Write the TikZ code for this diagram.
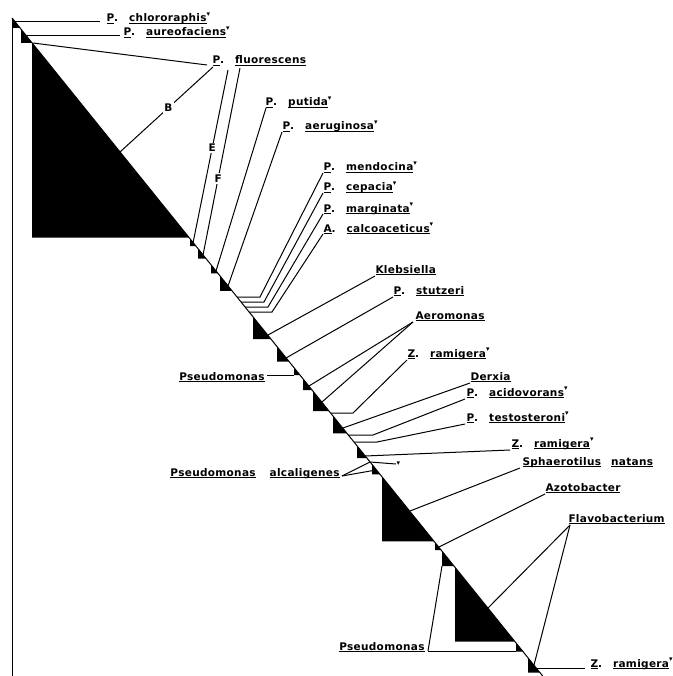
\documentclass[tikz,border=0pt]{standalone}
\usepackage{fontspec}
\setmainfont[LetterSpace=3]{DejaVu Sans}
\usepackage{tikz}
\usetikzlibrary{positioning}

\newcommand\ulw[1]{\setbox0\hbox{#1}\rlap{\rule[-2pt]{\wd0}{0.9pt}}\box0}
\newcommand\bname[2]{\ulw{#1}.\hspace{11pt}\ulw{#2}}
\newcommand\mk{\raisebox{1.0ex}{\fontsize{7}{7}\selectfont ▾}}

\begin{document}
\begin{tikzpicture}[x=1pt,y=-1pt,line width=1pt,
		lab/.style={anchor=base west,inner sep=0pt,font=\bfseries\fontsize{10.5}{12}\selectfont},
		labr/.style={anchor=base east,inner sep=0pt,font=\bfseries\fontsize{10.5}{12}\selectfont},
		cutlab/.style={fill=white,inner sep=1.5pt,font=\bfseries\fontsize{10.5}{12}\selectfont}]
			\useasboundingbox (0,0) rectangle (672,676);

			\fill (12,18) -- (20,27.9) -- (12,27.9) -- cycle;
			\fill (21,29.2) -- (32,42.8) -- (21,42.8) -- cycle;
			\fill (32,42.8) -- (189,237.5) -- (32,237.5) -- cycle;
			\fill (190,238.7) -- (196,246.2) -- (190,246.2) -- cycle;
			\fill (198,248.6) -- (206,258.6) -- (198,258.6) -- cycle;
			\fill (211,264.8) -- (218,273.4) -- (211,273.4) -- cycle;
			\fill (220,275.9) -- (232,290.8) -- (220,290.8) -- cycle;
			\fill (253,316.8) -- (271,339.2) -- (253,339.2) -- cycle;
			\fill (277,346.6) -- (289,361.5) -- (277,361.5) -- cycle;
			\fill (294,367.7) -- (300,375.2) -- (294,375.2) -- cycle;
			\fill (303,378.8) -- (312,390) -- (303,390) -- cycle;
			\fill (313,391.2) -- (329,411.1) -- (313,411.1) -- cycle;
			\fill (333,416) -- (347,433.4) -- (333,433.4) -- cycle;
			\fill (357,445.8) -- (367,458.2) -- (357,458.2) -- cycle;
			\fill (372,464.4) -- (380,474.3) -- (372,474.3) -- cycle;
			\fill (382,476.8) -- (434,541.3) -- (382,541.3) -- cycle;
			\fill (435,542.5) -- (441,550) -- (435,550) -- cycle;
			\fill (442,551.2) -- (454,566.1) -- (442,566.1) -- cycle;
			\fill (455,567.3) -- (515,641.7) -- (455,641.7) -- cycle;
			\fill (516,643) -- (523,651.6) -- (516,651.6) -- cycle;
			\fill (528,657.8) -- (540,672.7) -- (528,672.7) -- cycle;

			\draw (12,18) -- (543,676.4);
			\draw (12,18) -- (12,676);

			\node[lab] (chloro) at (106,22) {\bname{P}{chlororaphis}\mk};
			\node[lab] (aureo) at (123,36) {\bname{P}{aureofaciens}\mk};
			\node[lab] (fluor) at (212,64) {\bname{P}{fluorescens}};
			\node[lab] (putida) at (265,106) {\bname{P}{putida}\mk};
			\node[lab] (aerug) at (282,130) {\bname{P}{aeruginosa}\mk};
			\node[lab] (mendo) at (323,171) {\bname{P}{mendocina}\mk};
			\node[lab] (cepac) at (323,191) {\bname{P}{cepacia}\mk};
			\node[lab] (margi) at (323,212) {\bname{P}{marginata}\mk};
			\node[lab] (calco) at (323,232) {\bname{A}{calcoaceticus}\mk};
			\node[lab] (klebs) at (375,273) {\ulw{Klebsiella}};
			\node[lab] (stutz) at (393,294) {\bname{P}{stutzeri}};
			\node[lab] (aerom) at (415,319) {\ulw{Aeromonas}};
			\node[lab] (zram1) at (407,357) {\bname{Z}{ramigera}\mk};
			\node[lab] (derx) at (470,380) {\ulw{Derxia}};
			\node[lab] (acido) at (466,396) {\bname{P}{acidovorans}\mk};
			\node[lab] (testo) at (466,421) {\bname{P}{testosteroni}\mk};
			\node[lab] (zram2) at (511,447) {\bname{Z}{ramigera}\mk};
			\node[labr] (pseu1) at (265,380) {\ulw{Pseudomonas}};
			\node[labr] (alcal) at (340,476) {\ulw{Pseudomonas}\hspace{14pt}\ulw{alcaligenes}};
			\node[lab] (sphae) at (522,465) {\ulw{Sphaerotilus}\hspace{10pt}\ulw{natans}};
			\node[lab] (azoto) at (545,491) {\ulw{Azotobacter}};
			\node[lab] (flavo) at (568,522) {\ulw{Flavobacterium}};
			\node[labr] (pseu3) at (425,650) {\ulw{Pseudomonas}};
			\node[lab] (zram3) at (590,667) {\bname{Z}{ramigera}\mk};
			\node[anchor=west,inner sep=0pt,font=\fontsize{7}{7}\selectfont] (tick) at (396,464) {▾};

			\coordinate (cchl) at (14,22);
			\coordinate (caur) at (25,36);
			\coordinate (cflu) at (33,43);
			\coordinate (cB) at (120,152);
			\coordinate (cE) at (193,243);
			\coordinate (cF) at (203,255);
			\coordinate (cput) at (216,271);
			\coordinate (caer) at (228,286);
			\coordinate (cmen) at (237,297);
			\coordinate (kmen) at (260,297);
			\coordinate (ccep) at (241,302);
			\coordinate (kcep) at (264,302);
			\coordinate (cmar) at (245,307);
			\coordinate (kmar) at (268,307);
			\coordinate (ccal) at (249,312);
			\coordinate (kcal) at (272,312);
			\coordinate (ckle) at (268,335);
			\coordinate (cstu) at (286,358);
			\coordinate (caer1) at (309,386);
			\coordinate (caer2) at (322,402);
			\coordinate (cps1) at (294,375);
			\coordinate (czr1) at (331,413);
			\coordinate (kzr1) at (353,413);
			\coordinate (cder) at (343,428);
			\coordinate (caci) at (348,435);
			\coordinate (kaci) at (373,435);
			\coordinate (ctes) at (354,442);
			\coordinate (ktes) at (377,442);
			\coordinate (czr2) at (365,456);
			\coordinate (cmk) at (370,462);
			\coordinate (calc) at (376,470);
			\coordinate (csph) at (410,511);
			\coordinate (cazo) at (439,547);
			\coordinate (cfla1) at (488,608);
			\coordinate (cfla2) at (534,665);
			\coordinate (cps2) at (442,566);
			\coordinate (cps3) at (516,651);
			\coordinate (czr3) at (536,668);

			\draw (cchl) -- ([xshift=-6pt]chloro.base west);
			\draw (caur) -- ([xshift=-3pt]aureo.base west);
			\draw (cflu) -- ([xshift=-5pt,yshift=-1pt]fluor.base west);
			\draw ([xshift=1pt,yshift=-3pt]fluor.base west) -- node[cutlab,pos=0.48] {B} (cB);
			\draw ([xshift=16pt,yshift=-6pt]fluor.base west) -- node[cutlab,pos=0.45] {E} (cE);
			\draw ([xshift=28pt,yshift=-4pt]fluor.base west) -- node[cutlab,pos=0.59] {F} (cF);
			\draw (cput) -- ([xshift=1pt,yshift=-2pt]putida.base west);
			\draw (caer) -- ([yshift=-2pt]aerug.base west);
			\draw (cmen) -- (kmen) -- ([yshift=-2pt]mendo.base west);
			\draw (ccep) -- (kcep) -- ([yshift=-2pt]cepac.base west);
			\draw (cmar) -- (kmar) -- ([yshift=-2pt]margi.base west);
			\draw (ccal) -- (kcal) -- ([yshift=-2pt]calco.base west);
			\draw (ckle) -- ([yshift=-3pt]klebs.base west);
			\draw (cstu) -- ([yshift=-3pt]stutz.base west);
			\draw (caer1) -- ([xshift=-2pt,yshift=-3pt]aerom.base west);
			\draw (caer2) -- ([xshift=-2pt,yshift=-3pt]aerom.base west);
			\draw ([xshift=2pt,yshift=5pt]pseu1.base east) -- (cps1);
			\draw (czr1) -- (kzr1) -- ([yshift=-3pt]zram1.base west);
			\draw (cder) -- ([yshift=-3pt]derx.base west);
			\draw (caci) -- (kaci) -- ([xshift=-1pt,yshift=-3pt]acido.base west);
			\draw (ctes) -- (ktes) -- ([xshift=-1pt,yshift=-3pt]testo.base west);
			\draw (czr2) -- ([xshift=-1pt,yshift=-3pt]zram2.base west);
			\draw (cmk) -- (tick.west);
			\draw ([xshift=2pt]alcal.base east) -- (cmk);
			\draw ([xshift=2pt]alcal.base east) -- (calc);
			\draw (csph) -- ([xshift=-2pt,yshift=-3pt]sphae.base west);
			\draw (cazo) -- ([yshift=-3pt]azoto.base west);
			\draw (cfla1) -- ([xshift=2pt,yshift=-3pt]flavo.base west);
			\draw (cfla2) -- ([xshift=2pt,yshift=-3pt]flavo.base west);
			\draw ([xshift=3pt,yshift=-1pt]pseu3.base east) -- (cps2);
			\draw ([xshift=3pt,yshift=-1pt]pseu3.base east) -- (cps3);
			\draw (czr3) -- ([xshift=-5pt,yshift=-1pt]zram3.base west);
\end{tikzpicture}
\end{document}
